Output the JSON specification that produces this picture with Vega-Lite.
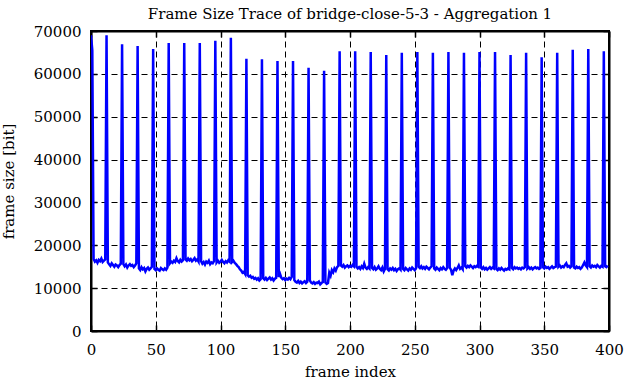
{
"$schema": "https://vega.github.io/schema/vega-lite/v6.json",
"width": 518, "height": 300,
"autosize": {"type": "none"},
"padding": {"left": 91, "top": 31, "right": 17, "bottom": 51},
"background": "white",
"title": {"text": "Frame Size Trace of bridge-close-5-3 - Aggregation 1", "font": "DejaVu Serif", "fontSize": 15, "fontWeight": "normal", "color": "black", "offset": 2, "anchor": "middle"},
"config": {
  "view": {"stroke": "black", "strokeWidth": 2},
  "axis": {"labelFont": "DejaVu Serif", "labelFontSize": 15, "labelColor": "black", "titleFont": "DejaVu Serif", "titleFontSize": 15, "titleFontWeight": "normal", "titleColor": "black", "domainColor": "black", "domainWidth": 2, "tickColor": "black", "tickWidth": 1.5, "gridColor": "black", "gridDash": [6, 4], "gridWidth": 1, "gridOpacity": 1}
},
"data": {"values": [
{"f":0,"s":69000},{"f":1,"s":65500},{"f":2,"s":16800},{"f":3,"s":16200},{"f":4,"s":16500},{"f":5,"s":15900},{"f":6,"s":16600},{"f":7,"s":16300},{"f":8,"s":16900},{"f":9,"s":16100},{"f":10,"s":16400},{"f":11,"s":16700},
{"f":12,"s":69000},{"f":13,"s":16000},{"f":14,"s":15600},{"f":15,"s":15200},{"f":16,"s":15800},{"f":17,"s":15400},{"f":18,"s":15000},{"f":19,"s":15500},{"f":20,"s":15300},{"f":21,"s":14900},{"f":22,"s":15400},{"f":23,"s":15700},
{"f":24,"s":66900},{"f":25,"s":15600},{"f":26,"s":15100},{"f":27,"s":15500},{"f":28,"s":14800},{"f":29,"s":15300},{"f":30,"s":15600},{"f":31,"s":15200},{"f":32,"s":15400},{"f":33,"s":14900},{"f":34,"s":15300},{"f":35,"s":15800},
{"f":36,"s":66500},{"f":37,"s":14600},{"f":38,"s":14200},{"f":39,"s":14900},{"f":40,"s":14400},{"f":41,"s":14700},{"f":42,"s":13900},{"f":43,"s":14500},{"f":44,"s":14800},{"f":45,"s":14300},{"f":46,"s":14600},{"f":47,"s":15000},
{"f":48,"s":65800},{"f":49,"s":14500},{"f":50,"s":14200},{"f":51,"s":14600},{"f":52,"s":14300},{"f":53,"s":14100},{"f":54,"s":14700},{"f":55,"s":14400},{"f":56,"s":14200},{"f":57,"s":14600},{"f":58,"s":14300},{"f":59,"s":14800},
{"f":60,"s":67200},{"f":61,"s":15800},{"f":62,"s":16200},{"f":63,"s":15900},{"f":64,"s":16400},{"f":65,"s":16100},{"f":66,"s":17000},{"f":67,"s":16300},{"f":68,"s":16000},{"f":69,"s":16600},{"f":70,"s":16200},{"f":71,"s":16500},
{"f":72,"s":67200},{"f":73,"s":16700},{"f":74,"s":16400},{"f":75,"s":16900},{"f":76,"s":16500},{"f":77,"s":16800},{"f":78,"s":16300},{"f":79,"s":16600},{"f":80,"s":17000},{"f":81,"s":16400},{"f":82,"s":16700},{"f":83,"s":16200},
{"f":84,"s":67200},{"f":85,"s":16300},{"f":86,"s":15700},{"f":87,"s":16100},{"f":88,"s":15500},{"f":89,"s":16200},{"f":90,"s":15900},{"f":91,"s":16400},{"f":92,"s":15600},{"f":93,"s":16000},{"f":94,"s":15800},{"f":95,"s":16300},
{"f":96,"s":67700},{"f":97,"s":16000},{"f":98,"s":16400},{"f":99,"s":15900},{"f":100,"s":16200},{"f":101,"s":16600},{"f":102,"s":16100},{"f":103,"s":15800},{"f":104,"s":16300},{"f":105,"s":16000},{"f":106,"s":16500},{"f":107,"s":16200},
{"f":108,"s":68400},{"f":109,"s":16100},{"f":110,"s":16400},{"f":111,"s":15900},{"f":112,"s":15600},{"f":113,"s":15200},{"f":114,"s":14900},{"f":115,"s":14400},{"f":116,"s":14100},{"f":117,"s":13600},{"f":118,"s":13800},{"f":119,"s":13300},
{"f":120,"s":63500},{"f":121,"s":13000},{"f":122,"s":12700},{"f":123,"s":12900},{"f":124,"s":12400},{"f":125,"s":12600},{"f":126,"s":12200},{"f":127,"s":12400},{"f":128,"s":12000},{"f":129,"s":12300},{"f":130,"s":11800},{"f":131,"s":12100},
{"f":132,"s":63400},{"f":133,"s":12300},{"f":134,"s":12000},{"f":135,"s":12400},{"f":136,"s":11900},{"f":137,"s":12200},{"f":138,"s":12500},{"f":139,"s":12000},{"f":140,"s":12300},{"f":141,"s":11800},{"f":142,"s":12200},{"f":143,"s":12400},
{"f":144,"s":63000},{"f":145,"s":12600},{"f":146,"s":13300},{"f":147,"s":12400},{"f":148,"s":12100},{"f":149,"s":12300},{"f":150,"s":11900},{"f":151,"s":12200},{"f":152,"s":12000},{"f":153,"s":12400},{"f":154,"s":12100},{"f":155,"s":12600},
{"f":156,"s":63000},{"f":157,"s":11900},{"f":158,"s":11500},{"f":159,"s":11300},{"f":160,"s":11700},{"f":161,"s":11200},{"f":162,"s":11500},{"f":163,"s":11100},{"f":164,"s":11400},{"f":165,"s":11600},{"f":166,"s":11200},{"f":167,"s":11500},
{"f":168,"s":61400},{"f":169,"s":11800},{"f":170,"s":11300},{"f":171,"s":11100},{"f":172,"s":11400},{"f":173,"s":11000},{"f":174,"s":11300},{"f":175,"s":11200},{"f":176,"s":11500},{"f":177,"s":10900},{"f":178,"s":11200},{"f":179,"s":11400},
{"f":180,"s":60700},{"f":181,"s":11300},{"f":182,"s":11000},{"f":183,"s":11200},{"f":184,"s":13600},{"f":185,"s":12900},{"f":186,"s":14200},{"f":187,"s":13700},{"f":188,"s":14600},{"f":189,"s":14100},{"f":190,"s":14900},{"f":191,"s":15200},
{"f":192,"s":65300},{"f":193,"s":15300},{"f":194,"s":15000},{"f":195,"s":15400},{"f":196,"s":14800},{"f":197,"s":15100},{"f":198,"s":15300},{"f":199,"s":14900},{"f":200,"s":15200},{"f":201,"s":15000},{"f":202,"s":15400},{"f":203,"s":15100},
{"f":204,"s":65300},{"f":205,"s":15000},{"f":206,"s":14600},{"f":207,"s":14900},{"f":208,"s":14500},{"f":209,"s":15100},{"f":210,"s":14700},{"f":211,"s":15700},{"f":212,"s":14800},{"f":213,"s":14500},{"f":214,"s":14900},{"f":215,"s":14600},
{"f":216,"s":65100},{"f":217,"s":14700},{"f":218,"s":14400},{"f":219,"s":14900},{"f":220,"s":14300},{"f":221,"s":14600},{"f":222,"s":15100},{"f":223,"s":14500},{"f":224,"s":14200},{"f":225,"s":14800},{"f":226,"s":13900},{"f":227,"s":14500},
{"f":228,"s":64400},{"f":229,"s":14400},{"f":230,"s":14100},{"f":231,"s":14600},{"f":232,"s":14300},{"f":233,"s":14700},{"f":234,"s":14200},{"f":235,"s":14500},{"f":236,"s":14000},{"f":237,"s":14400},{"f":238,"s":14600},{"f":239,"s":14300},
{"f":240,"s":64900},{"f":241,"s":14500},{"f":242,"s":14200},{"f":243,"s":14700},{"f":244,"s":14400},{"f":245,"s":14100},{"f":246,"s":14600},{"f":247,"s":14300},{"f":248,"s":14800},{"f":249,"s":14500},{"f":250,"s":14200},{"f":251,"s":14600},
{"f":252,"s":65100},{"f":253,"s":15000},{"f":254,"s":14700},{"f":255,"s":15100},{"f":256,"s":14600},{"f":257,"s":14900},{"f":258,"s":14500},{"f":259,"s":15000},{"f":260,"s":14700},{"f":261,"s":14400},{"f":262,"s":14800},{"f":263,"s":15100},
{"f":264,"s":64900},{"f":265,"s":14600},{"f":266,"s":14300},{"f":267,"s":14800},{"f":268,"s":14500},{"f":269,"s":14200},{"f":270,"s":14700},{"f":271,"s":14400},{"f":272,"s":14900},{"f":273,"s":14500},{"f":274,"s":14300},{"f":275,"s":14700},
{"f":276,"s":65100},{"f":277,"s":14800},{"f":278,"s":14300},{"f":279,"s":13000},{"f":280,"s":14100},{"f":281,"s":14600},{"f":282,"s":14200},{"f":283,"s":14700},{"f":284,"s":15300},{"f":285,"s":14500},{"f":286,"s":14800},{"f":287,"s":14400},
{"f":288,"s":64900},{"f":289,"s":15100},{"f":290,"s":14800},{"f":291,"s":15200},{"f":292,"s":14900},{"f":293,"s":15300},{"f":294,"s":15000},{"f":295,"s":14700},{"f":296,"s":15100},{"f":297,"s":14900},{"f":298,"s":15200},{"f":299,"s":15000},
{"f":300,"s":65100},{"f":301,"s":14800},{"f":302,"s":14500},{"f":303,"s":14900},{"f":304,"s":14400},{"f":305,"s":14700},{"f":306,"s":14300},{"f":307,"s":14600},{"f":308,"s":14900},{"f":309,"s":14500},{"f":310,"s":14800},{"f":311,"s":14600},
{"f":312,"s":65100},{"f":313,"s":14500},{"f":314,"s":14200},{"f":315,"s":14600},{"f":316,"s":14300},{"f":317,"s":14700},{"f":318,"s":14400},{"f":319,"s":14100},{"f":320,"s":14500},{"f":321,"s":14300},{"f":322,"s":14600},{"f":323,"s":14400},
{"f":324,"s":64400},{"f":325,"s":14700},{"f":326,"s":14400},{"f":327,"s":14900},{"f":328,"s":14600},{"f":329,"s":14800},{"f":330,"s":14500},{"f":331,"s":14700},{"f":332,"s":14400},{"f":333,"s":14800},{"f":334,"s":14600},{"f":335,"s":14900},
{"f":336,"s":64900},{"f":337,"s":14600},{"f":338,"s":14900},{"f":339,"s":14500},{"f":340,"s":14800},{"f":341,"s":14400},{"f":342,"s":14700},{"f":343,"s":14900},{"f":344,"s":14600},{"f":345,"s":14800},{"f":346,"s":14500},{"f":347,"s":14700},
{"f":348,"s":63900},{"f":349,"s":14900},{"f":350,"s":14600},{"f":351,"s":15000},{"f":352,"s":14700},{"f":353,"s":14900},{"f":354,"s":14500},{"f":355,"s":14800},{"f":356,"s":15100},{"f":357,"s":14700},{"f":358,"s":14900},{"f":359,"s":15000},
{"f":360,"s":64900},{"f":361,"s":15000},{"f":362,"s":15300},{"f":363,"s":14800},{"f":364,"s":15100},{"f":365,"s":14900},{"f":366,"s":15400},{"f":367,"s":15800},{"f":368,"s":15000},{"f":369,"s":15200},{"f":370,"s":14800},{"f":371,"s":15100},
{"f":372,"s":65600},{"f":373,"s":14800},{"f":374,"s":14600},{"f":375,"s":15000},{"f":376,"s":14700},{"f":377,"s":14900},{"f":378,"s":14500},{"f":379,"s":14800},{"f":380,"s":15400},{"f":381,"s":16000},{"f":382,"s":15300},{"f":383,"s":14900},
{"f":384,"s":65800},{"f":385,"s":15100},{"f":386,"s":14800},{"f":387,"s":15300},{"f":388,"s":15000},{"f":389,"s":15200},{"f":390,"s":14900},{"f":391,"s":15400},{"f":392,"s":15100},{"f":393,"s":14800},{"f":394,"s":15200},{"f":395,"s":15000},
{"f":396,"s":65300},{"f":397,"s":15100},{"f":398,"s":14900},{"f":399,"s":15300}
]},
"layer": [
  {"mark": {"type": "line", "color": "#0000ff", "strokeWidth": 2.5, "clip": true},
   "encoding": {
     "x": {"field": "f", "type": "quantitative", "scale": {"domain": [0, 400], "nice": false, "zero": false},
           "axis": {"orient": "bottom", "title": "frame index", "values": [0,50,100,150,200,250,300,350,400], "grid": true, "tickSize": -6, "labelPadding": 17, "titlePadding": 7, "labelFlush": false}},
     "y": {"field": "s", "type": "quantitative", "scale": {"domain": [0, 70000], "nice": false},
           "axis": {"orient": "left", "title": "frame size [bit]", "values": [0,10000,20000,30000,40000,50000,60000,70000], "format": "d", "grid": true, "tickSize": -6, "labelPadding": 16, "titlePadding": 17, "labelFlush": false}}
   }},
  {"mark": {"type": "line", "opacity": 0},
   "encoding": {
     "x": {"field": "f", "type": "quantitative", "scale": {"domain": [0, 400], "nice": false, "zero": false},
           "axis": {"orient": "top", "title": null, "labels": false, "values": [0,50,100,150,200,250,300,350,400], "grid": false, "tickSize": -6}},
     "y": {"field": "s", "type": "quantitative", "scale": {"domain": [0, 70000], "nice": false},
           "axis": {"orient": "right", "title": null, "labels": false, "values": [0,10000,20000,30000,40000,50000,60000,70000], "grid": false, "tickSize": -6}}
   }}
],
"resolve": {"axis": {"x": "independent", "y": "independent"}}
}
